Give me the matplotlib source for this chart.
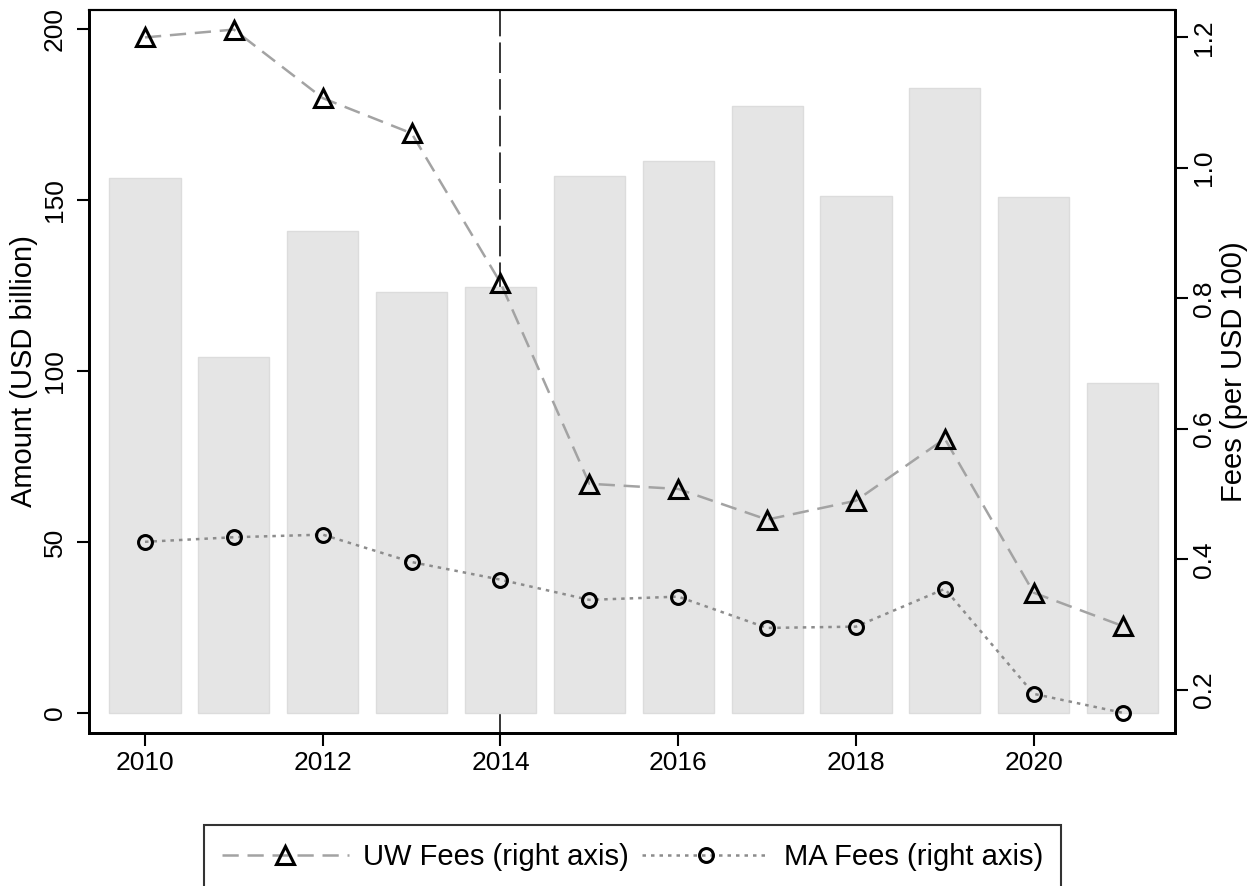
import matplotlib
matplotlib.use("Agg")
import matplotlib.pyplot as plt

plt.rcParams['font.family'] = ['Liberation Sans', 'DejaVu Sans']

years = [2010, 2011, 2012, 2013, 2014, 2015, 2016, 2017, 2018, 2019, 2020, 2021]
amount = [156.6, 104.0, 140.9, 123.0, 124.6, 157.0, 161.4, 177.5, 151.2, 182.7, 150.9, 96.5]
uw_fees = [1.200, 1.212, 1.107, 1.053, 0.824, 0.516, 0.508, 0.461, 0.490, 0.585, 0.349, 0.298]
ma_fees = [0.427, 0.434, 0.438, 0.396, 0.369, 0.338, 0.343, 0.295, 0.297, 0.355, 0.194, 0.165]
event_year = 2014
xticks = [2010, 2012, 2014, 2016, 2018, 2020]
left_ticks = [0, 50, 100, 150, 200]
right_ticks = [0.2, 0.4, 0.6, 0.8, 1.0, 1.2]
right_ticklabels = ["0.2", "0.4", "0.6", "0.8", "1.0", "1.2"]

FS_TICK = 19
FS_LAB = 21

fig = plt.figure(figsize=(12.6, 8.86), dpi=100)
ax = fig.add_axes([89/1260, 1-733/886, (1175-89)/1260, (733-10)/886])
ax2 = ax.twinx()

ax.bar(years, amount, width=0.8, color='#e5e5e5', edgecolor='#dcdcdc', linewidth=1, zorder=2)
ax.axvline(event_year, color='black', linewidth=1.1, linestyle=(0, (20, 4)), zorder=1)

ax2.plot(years, uw_fees, color='#a3a3a3', linewidth=1.8, linestyle=(0, (6.5, 3.5)),
         marker='^', markersize=13, markerfacecolor='none', markeredgecolor='black',
         markeredgewidth=2.2, label='UW Fees (right axis)')
ax2.plot(years, ma_fees, color='#8c8c8c', linewidth=1.8, linestyle=(0, (1.4, 2.0)),
         marker='o', markersize=10, markerfacecolor='none', markeredgecolor='black',
         markeredgewidth=2.2, label='MA Fees (right axis)')

ax.set_xlim(2009.37, 2021.59)
ax.set_ylim(-5.85, 205.6)
ax2.set_ylim(0.134, 1.242)

ax.set_xticks(xticks)
ax.set_xticklabels([str(x) for x in xticks], fontsize=FS_TICK)
ax.set_yticks(left_ticks)
ax.set_yticklabels([str(v) for v in left_ticks], fontsize=FS_TICK, rotation=90, va='center')
ax2.set_yticks(right_ticks)
ax2.set_yticklabels(right_ticklabels, fontsize=FS_TICK, rotation=90, va='center')

for a in (ax, ax2):
    a.tick_params(axis='both', length=9, width=1.5, direction='out')
    for s in a.spines.values():
        s.set_linewidth(2.0)
        s.set_color('black')
    a.spines['top'].set_linewidth(1.5)
ax.tick_params(axis='x', pad=4)
ax.tick_params(axis='y', pad=7)
ax2.tick_params(axis='y', pad=3)

ax.set_ylabel('Amount (USD billion)', fontsize=FS_LAB)
ax.yaxis.set_label_coords((38-89)/1086, 0.5)
ax2.set_ylabel('Fees (per USD 100)', fontsize=FS_LAB)
ax2.yaxis.set_label_coords((1220-89)/1086, 0.5)

h, l = ax2.get_legend_handles_labels()
leg = fig.legend(h, l, loc='upper center', bbox_to_anchor=(632.5/1260, 1-825/886), ncol=2,
                 fontsize=FS_LAB, frameon=True, fancybox=False, edgecolor='black',
                 handlelength=4.35, columnspacing=0.45, handletextpad=0.5,
                 borderpad=0.62, numpoints=1, borderaxespad=0)
leg.get_frame().set_linewidth(1.5)

fig.savefig('out.png', dpi=100)
